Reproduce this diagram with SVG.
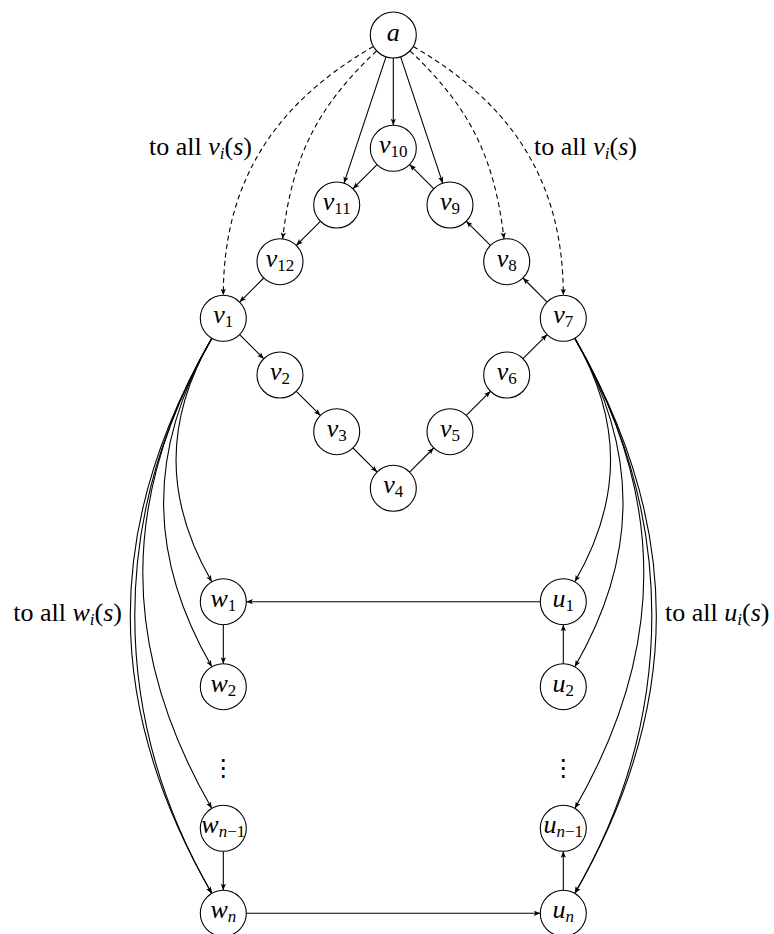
<svg xmlns="http://www.w3.org/2000/svg" width="774" height="934" viewBox="0 0 774 934">
<style>
.nd{fill:#fff;stroke:#000;stroke-width:1.1}
text.lb{font-family:'Liberation Serif','Times New Roman',Times,'DejaVu Serif','Noto Serif',serif;font-size:26px;fill:#000}
.it{font-style:italic}
.sb{font-size:17px}
.e{fill:none;stroke:#000;stroke-width:1.1;marker-end:url(#ar)}
.d{stroke-dasharray:5 3.5}
text.dots{font-family:'DejaVu Sans',sans-serif;font-size:24px;fill:#000}
</style>
<defs>
<marker id="ar" markerUnits="userSpaceOnUse" viewBox="-7 -4 8 8" markerWidth="8" markerHeight="8" refX="0" refY="0" orient="auto">
<path d="M0,0 L-6.5,-2.6 L-5,0 L-6.5,2.6 Z" fill="#000" stroke="none"/>
</marker>
</defs>
<rect x="0" y="0" width="774" height="934" fill="#fff"/>
<g id="connectors">
<path class="e d" d="M373.4,46.5 C274.8,103.4 223.3,181.5 223.3,295.3"/>
<path class="e d" d="M376.6,50.8 C316.8,107.3 292.1,157.2 282.6,238.9"/>
<path class="e d" d="M413.2,46.5 C511.8,103.4 563.3,181.5 563.3,295.3"/>
<path class="e d" d="M410,50.8 C469.8,107.3 494.5,157.2 504,238.9"/>
<path class="e" d="M393.3,58 L393.3,125.3"/>
<path class="e" d="M386,56.8 L344,183.2"/>
<path class="e" d="M400.6,56.8 L442.7,183.2"/>
<path class="e" d="M239.6,334.6 L263.7,358.7"/>
<path class="e" d="M296.3,391.3 L320.4,415.4"/>
<path class="e" d="M353,448 L377.1,472.1"/>
<path class="e" d="M409.6,472.1 L433.7,448"/>
<path class="e" d="M466.3,415.4 L490.4,391.3"/>
<path class="e" d="M523,358.7 L547.1,334.6"/>
<path class="e" d="M547.1,302.1 L523,278"/>
<path class="e" d="M490.4,245.4 L466.3,221.3"/>
<path class="e" d="M433.7,188.7 L409.6,164.6"/>
<path class="e" d="M377.1,164.6 L353,188.7"/>
<path class="e" d="M320.4,221.3 L296.3,245.4"/>
<path class="e" d="M263.7,278 L239.6,302.1"/>
<path class="e" d="M211.8,338.2 C164.1,420.8 164.1,499.2 211.8,581.8"/>
<path class="e" d="M211.8,338.2 C147.5,449.6 147.5,555.4 211.8,666.8"/>
<path class="e" d="M211.8,338.2 C119.8,497.6 119.8,649 211.8,808.4"/>
<path class="e" d="M211.8,338.2 C103.1,526.5 103.1,705.1 211.8,893.4"/>
<path class="e" d="M211.8,338.2 C109.1,516.1 109.1,715.5 211.8,893.4"/>
<path class="e" d="M574.8,338.2 C622.5,420.8 622.5,499.2 574.8,581.8"/>
<path class="e" d="M574.8,338.2 C639.1,449.6 639.1,555.4 574.8,666.8"/>
<path class="e" d="M574.8,338.2 C666.8,497.6 666.8,649 574.8,808.4"/>
<path class="e" d="M574.8,338.2 C683.5,526.5 683.5,705.1 574.8,893.4"/>
<path class="e" d="M574.8,338.2 C677.5,516.1 677.5,715.5 574.8,893.4"/>
<path class="e" d="M223.3,624.7 L223.3,663.7"/>
<path class="e" d="M223.3,851.3 L223.3,890.3"/>
<path class="e" d="M563.3,663.7 L563.3,624.7"/>
<path class="e" d="M563.3,890.3 L563.3,851.3"/>
<path class="e" d="M540.3,601.7 L246.3,601.7"/>
<path class="e" d="M246.3,913.3 L540.3,913.3"/>
</g>
<g id="node-a"><circle class="nd" cx="393.3" cy="35" r="23"/><text class="lb it" x="393.3" y="41" text-anchor="middle">a</text></g>
<g id="node-v10"><circle class="nd" cx="393.3" cy="148.3" r="23"/><text class="lb" x="393.3" y="153.3" text-anchor="middle"><tspan class="it">v</tspan><tspan class="sb" dy="4">10</tspan></text></g>
<g id="node-v11"><circle class="nd" cx="336.7" cy="205" r="23"/><text class="lb" x="336.7" y="210" text-anchor="middle"><tspan class="it">v</tspan><tspan class="sb" dy="4">11</tspan></text></g>
<g id="node-v9"><circle class="nd" cx="450" cy="205" r="23"/><text class="lb" x="450" y="210" text-anchor="middle"><tspan class="it">v</tspan><tspan class="sb" dy="4">9</tspan></text></g>
<g id="node-v12"><circle class="nd" cx="280" cy="261.7" r="23"/><text class="lb" x="280" y="266.7" text-anchor="middle"><tspan class="it">v</tspan><tspan class="sb" dy="4">12</tspan></text></g>
<g id="node-v8"><circle class="nd" cx="506.7" cy="261.7" r="23"/><text class="lb" x="506.7" y="266.7" text-anchor="middle"><tspan class="it">v</tspan><tspan class="sb" dy="4">8</tspan></text></g>
<g id="node-v1"><circle class="nd" cx="223.3" cy="318.3" r="23"/><text class="lb" x="223.3" y="323.3" text-anchor="middle"><tspan class="it">v</tspan><tspan class="sb" dy="4">1</tspan></text></g>
<g id="node-v7"><circle class="nd" cx="563.3" cy="318.3" r="23"/><text class="lb" x="563.3" y="323.3" text-anchor="middle"><tspan class="it">v</tspan><tspan class="sb" dy="4">7</tspan></text></g>
<g id="node-v2"><circle class="nd" cx="280" cy="375" r="23"/><text class="lb" x="280" y="380" text-anchor="middle"><tspan class="it">v</tspan><tspan class="sb" dy="4">2</tspan></text></g>
<g id="node-v6"><circle class="nd" cx="506.7" cy="375" r="23"/><text class="lb" x="506.7" y="380" text-anchor="middle"><tspan class="it">v</tspan><tspan class="sb" dy="4">6</tspan></text></g>
<g id="node-v3"><circle class="nd" cx="336.7" cy="431.7" r="23"/><text class="lb" x="336.7" y="436.7" text-anchor="middle"><tspan class="it">v</tspan><tspan class="sb" dy="4">3</tspan></text></g>
<g id="node-v5"><circle class="nd" cx="450" cy="431.7" r="23"/><text class="lb" x="450" y="436.7" text-anchor="middle"><tspan class="it">v</tspan><tspan class="sb" dy="4">5</tspan></text></g>
<g id="node-v4"><circle class="nd" cx="393.3" cy="488.3" r="23"/><text class="lb" x="393.3" y="493.3" text-anchor="middle"><tspan class="it">v</tspan><tspan class="sb" dy="4">4</tspan></text></g>
<g id="node-w1"><circle class="nd" cx="223.3" cy="601.7" r="23"/><text class="lb" x="223.3" y="606.7" text-anchor="middle"><tspan class="it">w</tspan><tspan class="sb" dy="4">1</tspan></text></g>
<g id="node-w2"><circle class="nd" cx="223.3" cy="686.7" r="23"/><text class="lb" x="223.3" y="691.7" text-anchor="middle"><tspan class="it">w</tspan><tspan class="sb" dy="4">2</tspan></text></g>
<g id="node-wn1"><circle class="nd" cx="223.3" cy="828.3" r="23"/><text class="lb" x="223.3" y="833.3" text-anchor="middle"><tspan class="it">w</tspan><tspan class="sb" dy="4"><tspan class="it">n</tspan>−1</tspan></text></g>
<g id="node-wn"><circle class="nd" cx="223.3" cy="913.3" r="23"/><text class="lb" x="223.3" y="918.3" text-anchor="middle"><tspan class="it">w</tspan><tspan class="sb it" dy="4">n</tspan></text></g>
<g id="node-u1"><circle class="nd" cx="563.3" cy="601.7" r="23"/><text class="lb" x="563.3" y="606.7" text-anchor="middle"><tspan class="it">u</tspan><tspan class="sb" dy="4">1</tspan></text></g>
<g id="node-u2"><circle class="nd" cx="563.3" cy="686.7" r="23"/><text class="lb" x="563.3" y="691.7" text-anchor="middle"><tspan class="it">u</tspan><tspan class="sb" dy="4">2</tspan></text></g>
<g id="node-un1"><circle class="nd" cx="563.3" cy="828.3" r="23"/><text class="lb" x="563.3" y="833.3" text-anchor="middle"><tspan class="it">u</tspan><tspan class="sb" dy="4"><tspan class="it">n</tspan>−1</tspan></text></g>
<g id="node-un"><circle class="nd" cx="563.3" cy="913.3" r="23"/><text class="lb" x="563.3" y="918.3" text-anchor="middle"><tspan class="it">u</tspan><tspan class="sb it" dy="4">n</tspan></text></g>
<g id="labels">
<text class="lb" x="252" y="155" text-anchor="end">to all <tspan class="it">v</tspan><tspan class="sb it" dy="4">i</tspan><tspan dy="-4">(</tspan><tspan class="it">s</tspan>)</text>
<text class="lb" x="534" y="155">to all <tspan class="it">v</tspan><tspan class="sb it" dy="4">i</tspan><tspan dy="-4">(</tspan><tspan class="it">s</tspan>)</text>
<text class="lb" x="122" y="621" text-anchor="end">to all <tspan class="it">w</tspan><tspan class="sb it" dy="4">i</tspan><tspan dy="-4">(</tspan><tspan class="it">s</tspan>)</text>
<text class="lb" x="665" y="621">to all <tspan class="it">u</tspan><tspan class="sb it" dy="4">i</tspan><tspan dy="-4">(</tspan><tspan class="it">s</tspan>)</text>
</g>
<g id="dots">
<text class="dots" x="223.3" y="776" text-anchor="middle">⋮</text>
<text class="dots" x="563.3" y="776" text-anchor="middle">⋮</text>
</g>
</svg>
